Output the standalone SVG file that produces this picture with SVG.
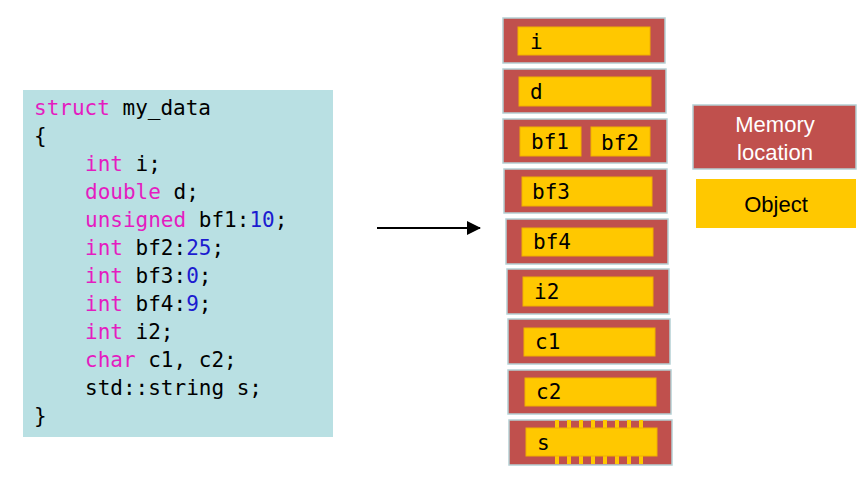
<svg xmlns="http://www.w3.org/2000/svg" width="867" height="479" viewBox="0 0 867 479">
<defs>
<style>
.code{font-family:"DejaVu Sans Mono","Liberation Mono",monospace;font-size:21px;fill:#000;white-space:pre}
.kw{fill:#e41cc0}
.num{fill:#1c1cd0}
.mem{fill:#c0504d;stroke:#b4d0d4;stroke-width:1.5}
.obj{fill:#ffc800;stroke:#f0b000;stroke-width:1}
.pin{fill:#ffc800}
.lbl{font-family:"DejaVu Sans Mono","Liberation Mono",monospace;font-size:21px;fill:#000}
.leg{font-family:"Liberation Sans",Arial,sans-serif;font-size:22px;text-anchor:middle}
</style>
<marker id="ah" markerWidth="14" markerHeight="14" refX="13" refY="7" orient="auto" markerUnits="userSpaceOnUse">
<path d="M0,0 L14,7 L0,14 Z" fill="#000"/>
</marker>
</defs>
<rect width="867" height="479" fill="#fff"/>

<g id="code">
<rect x="23" y="90" width="310" height="347" fill="#b9e0e3"/>
<text class="code" x="34" y="115"><tspan class="kw">struct</tspan> my_data</text>
<text class="code" x="34" y="143">{</text>
<text class="code" x="85" y="171"><tspan class="kw">int</tspan> i;</text>
<text class="code" x="85" y="199"><tspan class="kw">double</tspan> d;</text>
<text class="code" x="85" y="227"><tspan class="kw">unsigned</tspan> bf1:<tspan class="num">10</tspan>;</text>
<text class="code" x="85" y="255"><tspan class="kw">int</tspan> bf2:<tspan class="num">25</tspan>;</text>
<text class="code" x="85" y="283"><tspan class="kw">int</tspan> bf3:<tspan class="num">0</tspan>;</text>
<text class="code" x="85" y="311"><tspan class="kw">int</tspan> bf4:<tspan class="num">9</tspan>;</text>
<text class="code" x="85" y="339"><tspan class="kw">int</tspan> i2;</text>
<text class="code" x="85" y="367"><tspan class="kw">char</tspan> c1, c2;</text>
<text class="code" x="85" y="395">std::string s;</text>
<text class="code" x="34" y="423">}</text>
</g>

<g id="connectors">
<line x1="377" y1="228" x2="480" y2="228" stroke="#000" stroke-width="2" marker-end="url(#ah)"/>
</g>

<g id="mem-i">
<rect class="mem" x="503" y="18" width="162" height="45"/>
<rect class="obj" x="518" y="27" width="132" height="28"/>
<text class="lbl" x="530" y="49">i</text>
</g>
<g id="mem-d">
<rect class="mem" x="503" y="69" width="163" height="44"/>
<rect class="obj" x="519" y="77" width="132" height="29"/>
<text class="lbl" x="530" y="99">d</text>
</g>
<g id="mem-bf12">
<rect class="mem" x="503" y="119" width="164" height="44"/>
<rect class="obj" x="520" y="127" width="61" height="29"/>
<text class="lbl" x="531" y="149">bf1</text>
<rect class="obj" x="591" y="127" width="59" height="29"/>
<text class="lbl" x="601" y="150">bf2</text>
</g>
<g id="mem-bf3">
<rect class="mem" x="504" y="169" width="163" height="44"/>
<rect class="obj" x="522" y="177" width="130" height="29"/>
<text class="lbl" x="532" y="199">bf3</text>
</g>
<g id="mem-bf4">
<rect class="mem" x="506" y="219" width="162" height="45"/>
<rect class="obj" x="522" y="228" width="131" height="28"/>
<text class="lbl" x="533" y="249">bf4</text>
</g>
<g id="mem-i2">
<rect class="mem" x="507" y="269" width="162" height="45"/>
<rect class="obj" x="523" y="277" width="130" height="29"/>
<text class="lbl" x="534" y="299">i2</text>
</g>
<g id="mem-c1">
<rect class="mem" x="508" y="319" width="162" height="45"/>
<rect class="obj" x="524" y="328" width="131" height="28"/>
<text class="lbl" x="535" y="349">c1</text>
</g>
<g id="mem-c2">
<rect class="mem" x="508" y="370" width="163" height="44"/>
<rect class="obj" x="525" y="378" width="131" height="28"/>
<text class="lbl" x="536" y="399">c2</text>
</g>
<g id="mem-s">
<rect class="mem" x="509" y="420" width="163" height="45"/>
<g class="pin">
<rect x="555" y="420" width="4" height="9"/><rect x="567" y="420" width="4" height="9"/><rect x="579" y="420" width="4" height="9"/><rect x="591" y="420" width="4" height="9"/><rect x="603" y="420" width="4" height="9"/><rect x="615" y="420" width="4" height="9"/><rect x="627" y="420" width="4" height="9"/><rect x="639" y="420" width="4" height="9"/>
<rect x="555" y="455" width="4" height="9"/><rect x="567" y="455" width="4" height="9"/><rect x="579" y="455" width="4" height="9"/><rect x="591" y="455" width="4" height="9"/><rect x="603" y="455" width="4" height="9"/><rect x="615" y="455" width="4" height="9"/><rect x="627" y="455" width="4" height="9"/><rect x="639" y="455" width="4" height="9"/>
</g>
<rect class="obj" x="526" y="428" width="131" height="28"/>
<text class="lbl" x="537" y="450">s</text>
</g>

<g id="legend-memory">
<rect class="mem" x="693" y="105" width="163" height="64"/>
<text class="leg" x="775" y="132" fill="#fff">Memory</text>
<text class="leg" x="775" y="160" fill="#fff">location</text>
</g>
<g id="legend-object">
<rect x="696" y="179" width="160" height="49" fill="#ffc800"/>
<text class="leg" x="776" y="212" fill="#000">Object</text>
</g>
</svg>
